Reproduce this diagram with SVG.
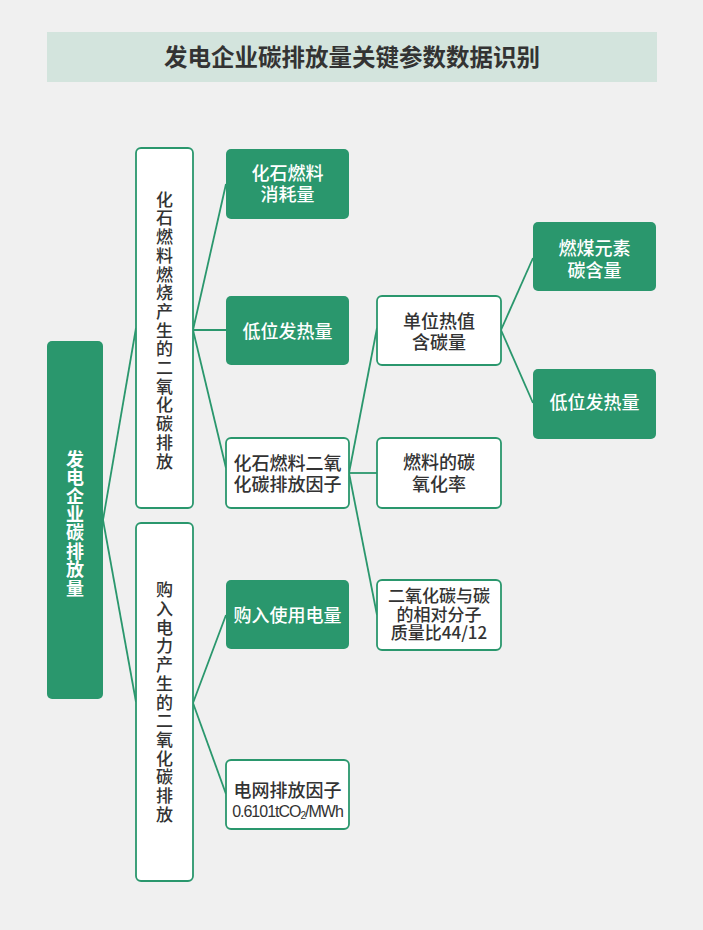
<svg xmlns="http://www.w3.org/2000/svg" width="703" height="930" viewBox="0 0 703 930">
<style>
.g{fill:#2a976d;}
.w{fill:#ffffff;stroke:#2a976d;stroke-width:1.8;}
.t{font-family:"Noto Sans CJK SC","Liberation Sans",sans-serif;text-anchor:middle;}
.tw{fill:#ffffff;font-size:18px;font-weight:500;}
.td{fill:#333333;font-size:18px;font-weight:500;}
.tv{fill:#333333;font-size:17px;font-weight:500;writing-mode:vertical-rl;letter-spacing:1.7px;}
.tb{fill:#ffffff;font-size:18px;font-weight:700;writing-mode:vertical-rl;letter-spacing:0.4px;}
.c{fill:none;stroke:#2a976d;stroke-width:1.8;}
</style>
<rect x="0" y="0" width="703" height="930" fill="#f0f0f0"/>
<g id="title">
<rect x="47" y="32" width="610" height="50" fill="#d3e4dd"/>
<text class="t" x="352" y="65.5" font-size="23.5" font-weight="700" fill="#333333">发电企业碳排放量关键参数数据识别</text>
</g>
<g id="connectors">
<path class="c" d="M103,520 L136,328"/>
<path class="c" d="M103,520 L136,702"/>
<path class="c" d="M193,330 L226,184"/>
<path class="c" d="M193,330 L226,330"/>
<path class="c" d="M193,330 L226,468"/>
<path class="c" d="M193,703 L226,615"/>
<path class="c" d="M193,703 L226,794"/>
<path class="c" d="M349,473 L377,328"/>
<path class="c" d="M349,473 L377,473"/>
<path class="c" d="M349,473 L377,615"/>
<path class="c" d="M501,330 L533,258"/>
<path class="c" d="M501,330 L533,403"/>
</g>
<g id="root">
<rect class="g" x="47" y="341" width="56" height="358" rx="5"/>
<text class="t tb" x="75" y="523.5">发电企业碳排放量</text>
</g>
<g id="fossil">
<rect class="w" x="136" y="148" width="57" height="360" rx="5"/>
<text class="t tv" x="164.5" y="331">化石燃料燃烧产生的二氧化碳排放</text>
</g>
<g id="power">
<rect class="w" x="136" y="523" width="57" height="358" rx="5"/>
<text class="t tv" x="164.5" y="703">购入电力产生的二氧化碳排放</text>
</g>
<g id="fuel-consumption">
<rect class="g" x="226" y="149" width="123" height="70" rx="5"/>
<text class="t tw"><tspan x="287.5" y="180">化石燃料</tspan><tspan x="287.5" y="201">消耗量</tspan></text>
</g>
<g id="lhv1">
<rect class="g" x="226" y="296" width="123" height="69" rx="5"/>
<text class="t tw" x="287.5" y="337.5">低位发热量</text>
</g>
<g id="fossil-ef">
<rect class="w" x="226" y="438" width="123" height="70" rx="5"/>
<text class="t td"><tspan x="287.5" y="470">化石燃料二氧</tspan><tspan x="287.5" y="491">化碳排放因子</tspan></text>
</g>
<g id="purchased">
<rect class="g" x="226" y="580" width="123" height="69" rx="5"/>
<text class="t tw" x="287.5" y="622">购入使用电量</text>
</g>
<g id="grid-ef">
<rect class="w" x="226" y="760" width="123" height="69" rx="5"/>
<text class="t td" x="287.5" y="797">电网排放因子</text>
<text x="287.5" y="817" font-family="Liberation Sans, Arial, sans-serif" font-size="16" letter-spacing="-1" fill="#333333" text-anchor="middle">0.6101tCO<tspan font-size="10" dy="2">2</tspan><tspan dy="-2">/MWh</tspan></text>
</g>
<g id="carbon-per-heat">
<rect class="w" x="377" y="296" width="124" height="69" rx="5"/>
<text class="t td"><tspan x="439" y="328">单位热值</tspan><tspan x="439" y="348.5">含碳量</tspan></text>
</g>
<g id="oxidation">
<rect class="w" x="377" y="438" width="124" height="70" rx="5"/>
<text class="t td"><tspan x="439" y="469">燃料的碳</tspan><tspan x="439" y="491">氧化率</tspan></text>
</g>
<g id="ratio">
<rect class="w" x="377" y="580" width="124" height="70" rx="5"/>
<text class="t td" font-size="17"><tspan x="439" y="601.5" font-size="17">二氧化碳与碳</tspan><tspan x="439" y="620.5" font-size="17">的相对分子</tspan><tspan x="439" y="639" font-size="17">质量比44/12</tspan></text>
</g>
<g id="coal-carbon">
<rect class="g" x="533" y="222" width="123" height="69" rx="5"/>
<text class="t tw"><tspan x="594.5" y="255">燃煤元素</tspan><tspan x="594.5" y="277">碳含量</tspan></text>
</g>
<g id="lhv2">
<rect class="g" x="533" y="369" width="123" height="70" rx="5"/>
<text class="t tw" x="594.5" y="409">低位发热量</text>
</g>
</svg>
